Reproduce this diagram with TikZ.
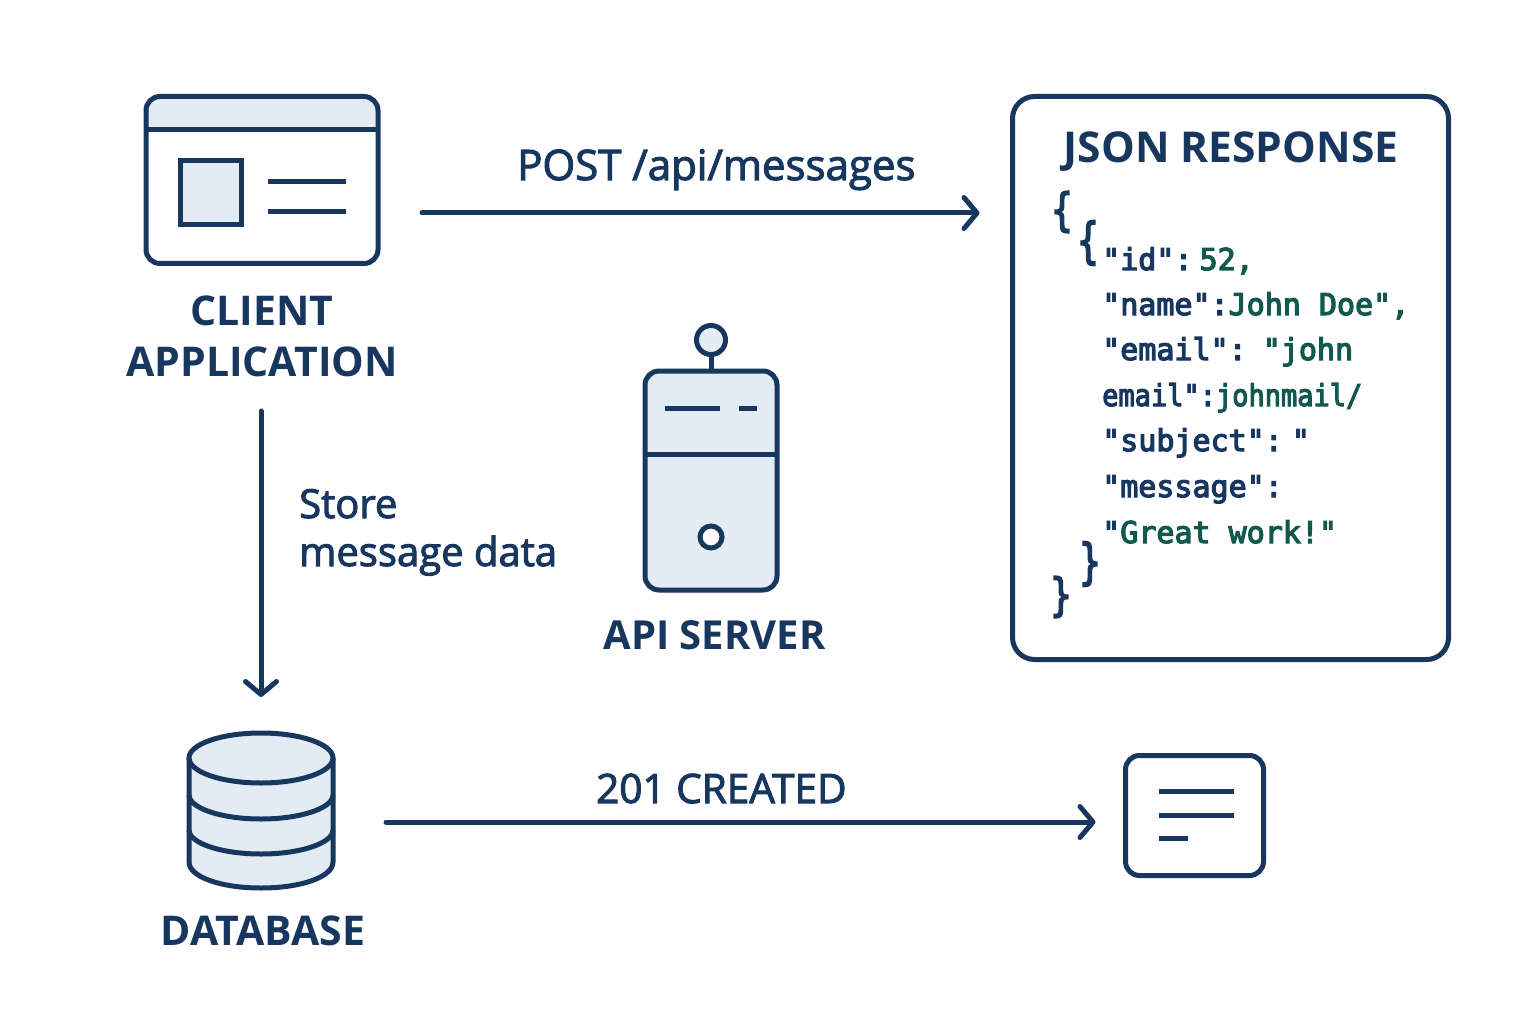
\documentclass[tikz,border=0pt]{standalone}
\usepackage{fontspec}
\usepackage{graphicx}
\setmainfont{Open Sans}
\newfontfamily\labelfont[FakeBold=2.5]{Open Sans}
\newfontfamily\jsonfont[FakeBold=4]{DejaVu Sans Mono}
\usetikzlibrary{arrows.meta}
\definecolor{navy}{HTML}{17375F}
\definecolor{pale}{HTML}{E3ECF4}
\definecolor{jgreen}{HTML}{11594F}
\tikzset{
  icon/.style={draw=navy,line width=5pt,inner sep=0pt,outer sep=0pt,rounded corners=14pt},
  stroke/.style={draw=navy,line width=5pt},
  flow/.style={draw=navy,line width=5pt,line cap=round,-{Straight Barb[length=13pt,width=31pt,line width=5pt,round]}},
  title/.style={text=navy,inner sep=0pt,anchor=base,font=\fontsize{41}{48}\selectfont\bfseries},
  caption/.style={text=navy,inner sep=0pt,anchor=base west,font=\labelfont\fontsize{40}{46}\selectfont},
  code/.style={text=navy,inner sep=0pt,anchor=base west,font=\jsonfont\fontsize{30}{36}\selectfont},
  brace/.style={text=navy,inner sep=0pt,font=\jsonfont\fontsize{36}{50}\selectfont},
}
\begin{document}
\begin{tikzpicture}[x=1pt,y=-1pt]
\useasboundingbox[fill=white] (0,0) rectangle (1536,1024);

% client window
\fill[pale] (146.5,130) [rounded corners=14pt] -- (146.5,97.5) -- (378.5,97.5) [sharp corners] -- (378.5,130) -- cycle;
\node[icon,minimum width=232pt,minimum height=167pt] (client) at (262,180) {};
\draw[stroke] (146,130) -- (378,130);
\draw[stroke,fill=pale] (180.5,160.5) rectangle (241,225);
\draw[stroke] (268,182) -- (346,182);
\draw[stroke] (268,212) -- (346,212);
\node[title] (clientA) at (262,325) {CLIENT};
\node[title] (clientB) at (262,376) {APPLICATION};

% server
\draw[stroke,fill=pale] (711,354) -- (711,372);
\draw[stroke,fill=pale] (711,340) circle (14.5);
\node[icon,fill=pale,minimum width=132pt,minimum height=219pt] (server) at (711,480.5) {};
\draw[stroke] (645,454) -- (777,454);
\draw[stroke] (665,408) -- (720,408);
\draw[stroke] (739,408) -- (757,408);
\draw[stroke,fill=white] (711,537) circle (11);
\node[title,font=\fontsize{40}{48}\selectfont\bfseries] (serverlabel) at (714.5,649) {API SERVER};

% database
\node[inner sep=0pt,outer sep=0pt,minimum width=148pt,minimum height=158pt] (db) at (261,811) {};
\fill[pale] (189,758) -- (189,862) .. controls (189,877) and (221,888) .. (261,888) .. controls (301,888) and (333,877) .. (333,862) -- (333,758) -- cycle;
\draw[stroke,fill=pale] (261,758) ellipse [x radius=72,y radius=25];
\draw[stroke,line join=round] (189,758) -- (189,862) .. controls (189,877) and (221,888) .. (261,888) .. controls (301,888) and (333,877) .. (333,862) -- (333,758);
\draw[stroke] (189,795) .. controls (189,808) and (221,819) .. (261,819) .. controls (301,819) and (333,808) .. (333,795);
\draw[stroke] (189,830) .. controls (189,843) and (221,854) .. (261,854) .. controls (301,854) and (333,843) .. (333,830);
\node[title] (dblabel) at (263,945) {DATABASE};

% message icon
\node[icon,minimum width=138pt,minimum height=120pt] (msg) at (1194.5,815.5) {};
\draw[stroke] (1159,791) -- (1234,791);
\draw[stroke] (1159,815) -- (1234,815);
\draw[stroke] (1159,838) -- (1188,838);

% json panel
\node[icon,rounded corners=22pt,minimum width=436pt,minimum height=563pt] (json) at (1230.5,378) {};
\node[title,font=\fontsize{42.5}{48}\selectfont\bfseries] (jsontitle) at (1231,163) {JSON RESPONSE};
\node[brace] (b1) at (1062,212) {\scalebox{1}[1.25]{\{}};
\node[brace] (b2) at (1088,243) {\scalebox{1}[1.35]{\{}};
\node[brace] (b3) at (1090,564) {\scalebox{1}[1.35]{\}}};
\node[brace] (b4) at (1061,597) {\scalebox{1}[1.25]{\}}};
\node[code] (l1) at (1102,270) {"id":\hspace{-17pt} {\color{jgreen}52,}};
\node[code] (l2) at (1102,315) {"name":{\color{jgreen}John Doe",}};
\node[code] (l3) at (1102,360) {"email":\hspace{-8pt} {\color{jgreen}"john}};
\node[code] (l4) at (1102,406) {\scalebox{0.9}[1]{email":{\color{jgreen}johnmail/}}};
\node[code] (l5) at (1102,451) {"subject":\hspace{-15pt} "};
\node[code] (l6) at (1102,497) {"message":};
\node[code] (l7) at (1102,543) {"{\color{jgreen}Great work!"}};

% connectors
\draw[flow,shorten <=44pt,shorten >=33pt] ([yshift=-33pt]client.east) -- ([yshift=165pt]json.west);
\draw[flow,shorten <=35pt,shorten >=35pt] ([xshift=-1pt]clientB.base) -- ([xshift=0pt]db.north);
\draw[flow,shorten <=51pt,shorten >=30pt] ([yshift=-11pt]db.east) -- ([yshift=-6.5pt]msg.west);
\node[caption,font=\labelfont\fontsize{42}{46}\selectfont] (post) at (517,180) {POST /api/messages};
\node[caption,font=\labelfont\fontsize{40.5}{46}\selectfont] (created) at (596,803) {201 CREATED};
\node[caption] (store) at (299,518) {Store};
\node[caption] (store2) at (299,566) {message data};
\end{tikzpicture}
\end{document}
